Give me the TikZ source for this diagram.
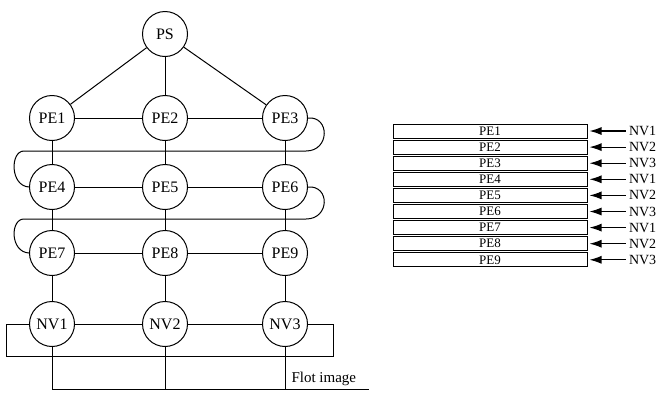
\documentclass[tikz,border=0pt]{standalone}
\usepackage{fontspec}
\setmainfont{Liberation Serif}
\usetikzlibrary{arrows.meta,positioning}

\begin{document}
\begin{tikzpicture}[x=1pt,y=-1pt,line width=1pt,
  proc/.style={draw,circle,minimum size=45pt,inner sep=0pt,
    font=\fontsize{16}{16}\selectfont},
  row/.style={draw,minimum width=194pt,minimum height=14pt,inner sep=0pt,
    font=\fontsize{13}{13}\selectfont},
  tag/.style={inner sep=0pt,font=\fontsize{14}{14}\selectfont},
  arr/.style={-{Latex[length=12pt,width=8pt]},line width=1.1pt,
    shorten >=2pt,shorten <=3pt}]
\useasboundingbox (0,0) rectangle (667,392);
% processor network
\node[proc] (ps) at (165,34) {PS};
\node[proc] (pe1) at (52,118) {PE1};
\node[proc] (pe2) at (165,118) {PE2};
\node[proc] (pe3) at (285,118) {PE3};
\node[proc] (pe4) at (52,187) {PE4};
\node[proc] (pe5) at (165,187) {PE5};
\node[proc] (pe6) at (285,187) {PE6};
\node[proc] (pe7) at (52,253) {PE7};
\node[proc] (pe8) at (165,253) {PE8};
\node[proc] (pe9) at (285,253) {PE9};
\node[proc] (nv1) at (52,324) {NV1};
\node[proc] (nv2) at (165,324) {NV2};
\node[proc] (nv3) at (285,324) {NV3};
\draw (ps)--(pe1);
\draw (ps)--(pe2);
\draw (ps)--(pe3);
\draw (pe1)--(pe2)--(pe3);
\draw (pe4)--(pe5)--(pe6);
\draw (pe7)--(pe8)--(pe9);
\draw (nv1)--(nv2)--(nv3);
\draw (pe1)--(pe4)--(pe7)--(nv1);
\draw (pe2)--(pe5)--(pe8)--(nv2);
\draw (pe3)--(pe6)--(pe9)--(nv3);
% wrap-around links
\coordinate (r1) at (306,151);
\coordinate (w1) at (24,151);
\coordinate (r2) at (306,219);
\coordinate (w2) at (24,219);
\draw (pe3.east) .. controls (330,116) and (330,151) .. (r1) -- (w1)
  .. controls (10,151) and (10,186) .. (pe4.west);
\draw (pe6.east) .. controls (330,185) and (330,219) .. (r2) -- (w2)
  .. controls (10,219) and (10,252) .. (pe7.west);
\coordinate (c1) at (6,356);
\coordinate (c2) at (333,356);
\draw (nv1.west) -| (c1) -- (c2) |- (nv3.east);
% image bus
\node[tag,anchor=south west,font=\fontsize{15}{15}\selectfont] (flot)
  at (291,386) {Flot image};
\coordinate (b1) at (52,389);
\coordinate (b2) at (165,389);
\coordinate (b3) at (285,389);
\coordinate (b4) at (369,389);
\draw (nv1)--(b1)--(b4);
\draw (nv2)--(b2);
\draw (nv3)--(b3);
% image memory
\node[row] (t1) at (490,131) {PE1};
\node[row,below=1.1pt of t1] (t2) {PE2};
\node[row,below=1.1pt of t2] (t3) {PE3};
\node[row,below=1.1pt of t3] (t4) {PE4};
\node[row,below=1.1pt of t4] (t5) {PE5};
\node[row,below=1.1pt of t5] (t6) {PE6};
\node[row,below=1.1pt of t6] (t7) {PE7};
\node[row,below=1.1pt of t7] (t8) {PE8};
\node[row,below=1.1pt of t8] (t9) {PE9};
\node[tag,right=41pt of t1] (n1) {NV1};
\node[tag,right=41pt of t2] (n2) {NV2};
\node[tag,right=41pt of t3] (n3) {NV3};
\node[tag,right=41pt of t4] (n4) {NV1};
\node[tag,right=41pt of t5] (n5) {NV2};
\node[tag,right=41pt of t6] (n6) {NV3};
\node[tag,right=41pt of t7] (n7) {NV1};
\node[tag,right=41pt of t8] (n8) {NV2};
\node[tag,right=41pt of t9] (n9) {NV3};
\draw[arr] (n1)--(t1);
\draw[arr] (n2)--(t2);
\draw[arr] (n3)--(t3);
\draw[arr] (n4)--(t4);
\draw[arr] (n5)--(t5);
\draw[arr] (n6)--(t6);
\draw[arr] (n7)--(t7);
\draw[arr] (n8)--(t8);
\draw[arr] (n9)--(t9);
\end{tikzpicture}
\end{document}
